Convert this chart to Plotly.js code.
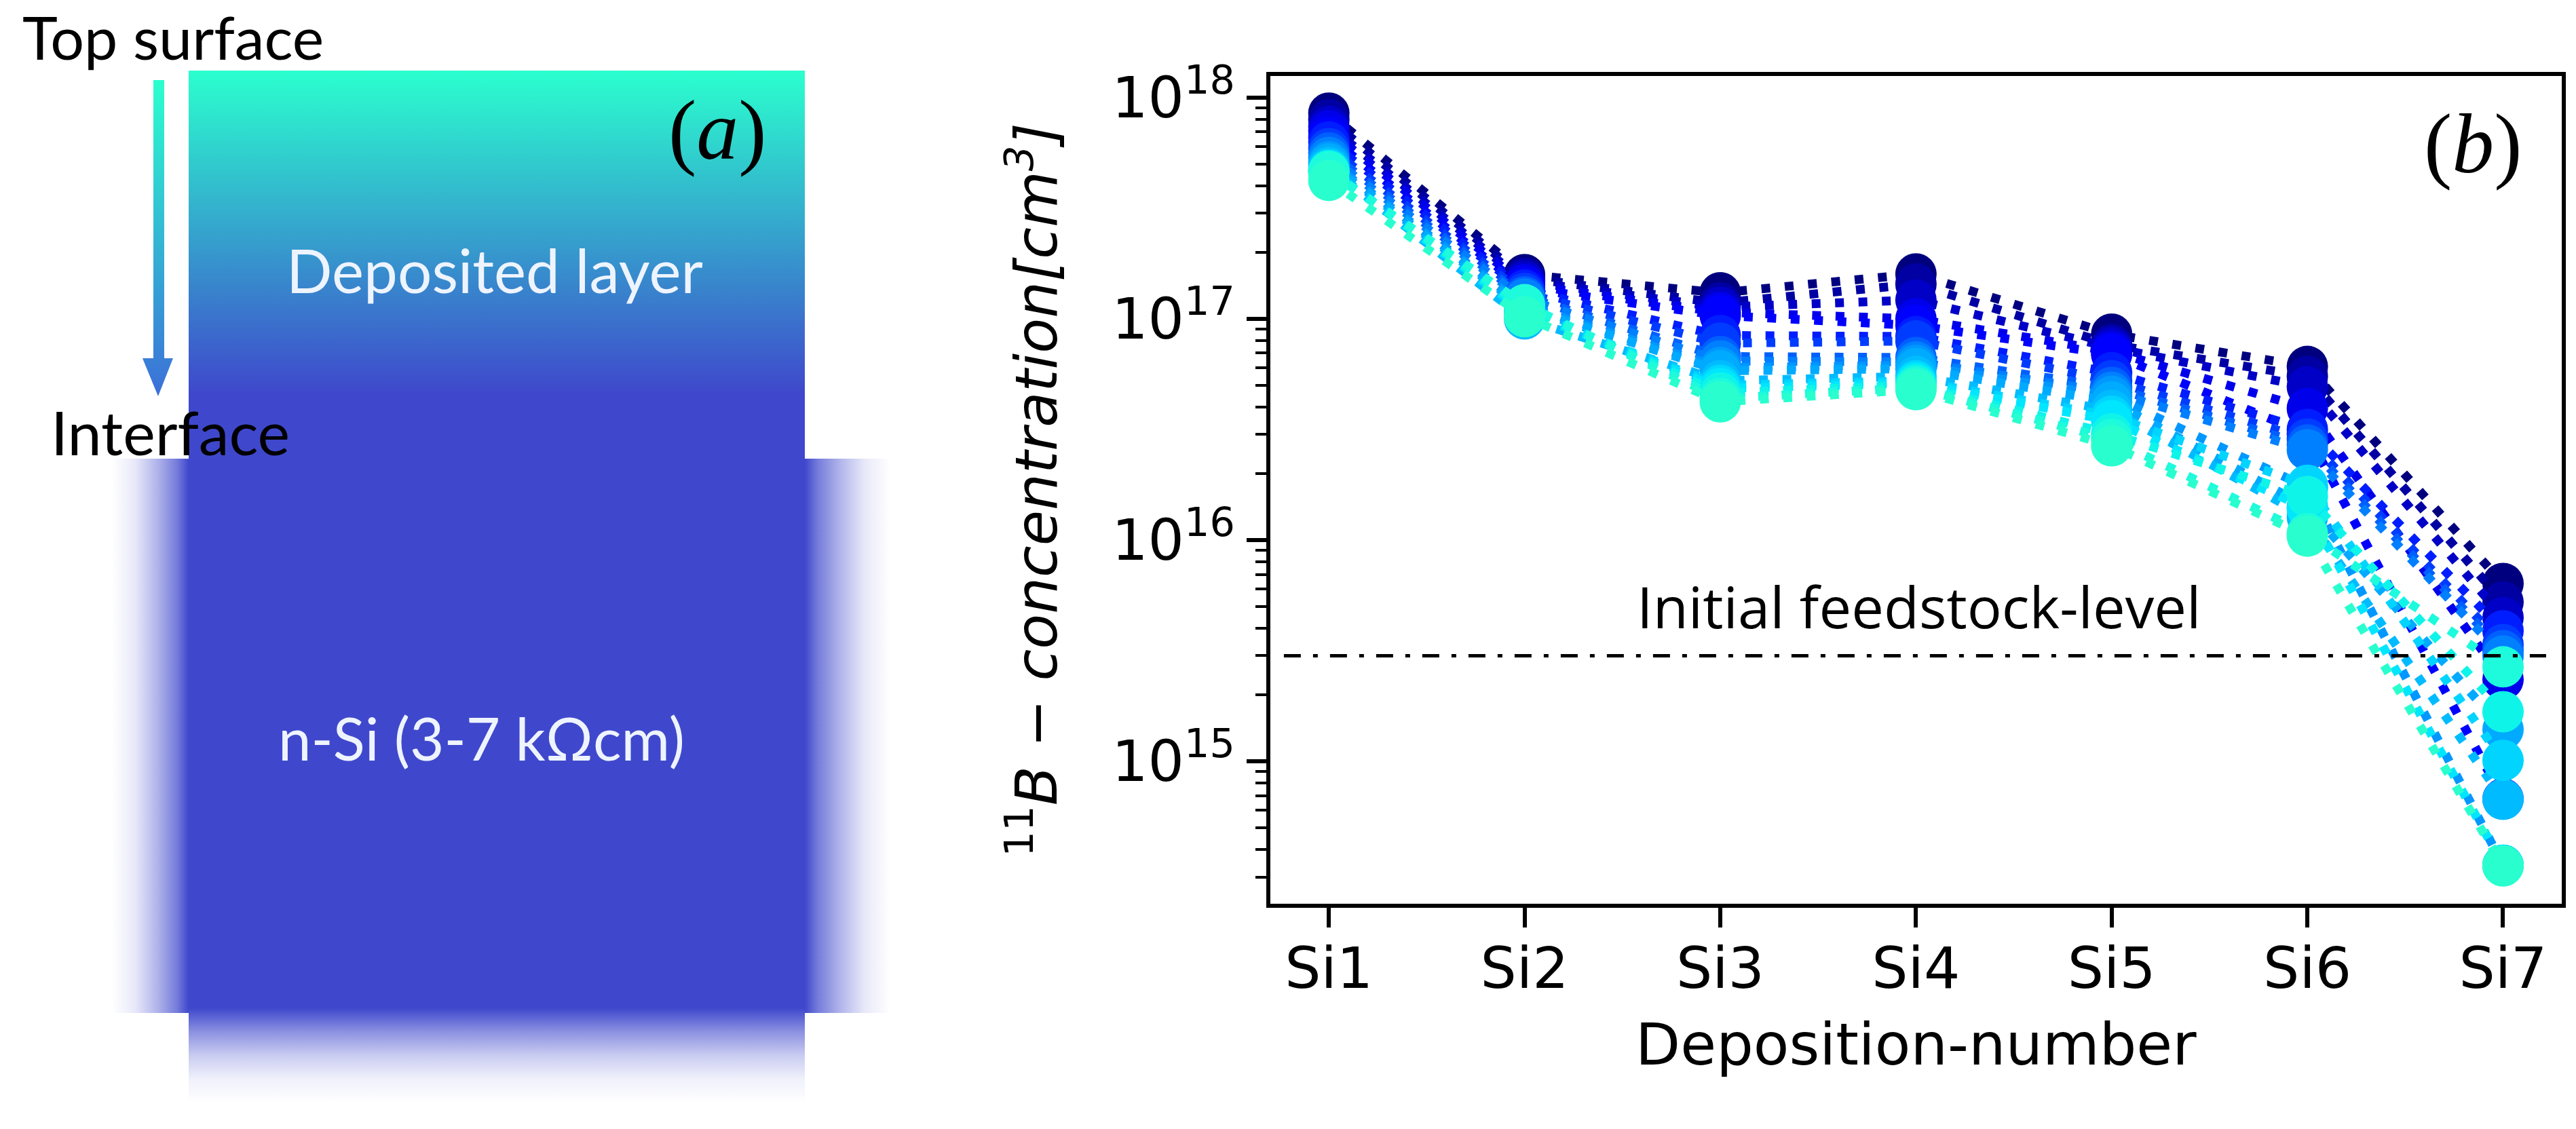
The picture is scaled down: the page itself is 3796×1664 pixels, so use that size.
<!DOCTYPE html>
<html><head><meta charset="utf-8">
<script src="https://cdn.plot.ly/plotly-3.0.1.min.js"></script>
<style>html,body{margin:0;padding:0;background:#fff}</style></head>
<body><div id="chart" style="width:3796px;height:1664px"></div>
<script>
const depositions = ["Si1","Si2","Si3","Si4","Si5","Si6","Si7"];
const depositionIndex = [0,1,2,3,4,5,6];
// log10 of the 11B concentration, one array per profile depth
const depth01 = [17.93,17.20,17.118,17.203,16.931,16.785,15.804];
const depth02 = [17.90,17.185,17.072,17.157,16.884,16.74,15.72];
const depth03 = [17.87,17.17,17.053,17.085,16.87,16.693,15.65];
const depth04 = [17.85,17.155,17.03,17.0,16.853,16.595,15.37];
const depth05 = [17.82,17.14,17.015,16.97,16.84,16.48,14.83];
const depth06 = [17.80,17.13,16.925,16.92,16.757,16.50,15.59];
const depth07 = [17.77,17.115,16.89,16.90,16.72,16.457,15.528];
const depth08 = [17.75,17.10,16.83,16.825,16.69,16.43,15.50];
const depth09 = [17.73,17.09,16.81,16.805,16.668,16.408,15.476];
const depth10 = [17.71,17.06,16.78,16.79,16.65,16.238,14.53];
const depth11 = [17.70,17.05,16.765,16.775,16.625,16.15,15.144];
const depth12 = [17.685,17.0,16.72,16.74,16.587,16.104,14.828];
const depth13 = [17.675,17.03,16.70,16.72,16.56,16.248,15.004];
const depth14 = [17.67,17.04,16.685,16.71,16.54,16.142,14.53];
const depth15 = [17.668,17.05,16.665,16.70,16.48,16.197,15.224];
const depth16 = [17.665,17.064,16.64,16.69,16.455,16.03,15.427];
const depth17 = [17.626,17.01,16.625,16.68,16.426,16.018,14.527];
const allDepths = [depth01,depth02,depth03,depth04,depth05,depth06,depth07,depth08,depth09,depth10,depth11,depth12,depth13,depth14,depth15,depth16,depth17];
const depthColors = ["#00007f","#0000a3","#0000c7","#0000eb","#0000ff","#001dff","#003cff","#0060ff","#0080ff","#0097ff","#00aaff","#00bbff","#00d4ff","#00e6ff","#0ff4e8","#1efbdc","#29ffce"];
const feedstockLevel = 3e15;
const yTickVals = [1e15,1e16,1e17,1e18];
const yTickText = ["10<sup>15</sup>","10<sup>16</sup>","10<sup>17</sup>","10<sup>18</sup>"];

const W=3796, H=1664;
const TEAL="#2bffce", BLUE="#3f48cc";
const traces=[];

function box(x0,y0,x1,y1,grad){
  traces.push({type:"scatter",mode:"lines",xaxis:"x2",yaxis:"y2",hoverinfo:"skip",
    x:[x0,x1,x1,x0,x0],y:[y0,y0,y1,y1,y0],fill:"toself",line:{width:0},fillgradient:grad});
}
const a=v=>"rgba(63,72,204,"+v+")";
box(165,676,278,1493,{type:"horizontal",start:165,stop:278,colorscale:[[0,a(0)],[0.3,a(0.12)],[0.6,a(0.42)],[0.85,a(0.72)],[1,a(1)]]});
box(1186,676,1312,1493,{type:"horizontal",start:1186,stop:1312,colorscale:[[0,a(1)],[0.15,a(0.72)],[0.4,a(0.42)],[0.7,a(0.12)],[1,a(0)]]});
box(278,1486,1186,1625,{type:"vertical",start:1486,stop:1625,colorscale:[[0,a(1)],[0.25,a(0.6)],[0.5,a(0.28)],[0.75,a(0.08)],[1,a(0)]]});
box(278,104,1186,1486,{type:"vertical",start:104,stop:1486,colorscale:[[0,TEAL],[0.345,BLUE],[1,BLUE]]});
traces.push({type:"scatter",mode:"lines",xaxis:"x2",yaxis:"y2",hoverinfo:"skip",
  x:[226,242,242,255,233,210,226,226],y:[118,118,528,528,584,528,528,118],fill:"toself",line:{width:0},
  fillgradient:{type:"vertical",start:118,stop:584,colorscale:[[0,TEAL],[1,"#3c6fd8"]]}});

allDepths.forEach((d,i)=>{
  traces.push({type:"scatter",mode:"lines+markers",x:depositionIndex,y:d.map(v=>Math.pow(10,v)),
    line:{color:depthColors[i],width:13,dash:"13px,21.5px"},
    marker:{color:depthColors[i],size:61,line:{width:0}},hoverinfo:"skip"});
});
traces.push({type:"scatter",mode:"lines",x:[-0.23,6.22],y:[feedstockLevel,feedstockLevel],
  line:{color:"#000",width:5,dash:"25px,18px,7px,18px"},hoverinfo:"skip"});

const DJ="DejaVu Sans";
const note=(text,x,y,family,size,color)=>({text,xref:"paper",yref:"paper",x:x/W,y:1-y/H,xanchor:"center",yanchor:"middle",showarrow:false,font:{family,size,color}});
const layout={width:W,height:H,margin:{l:0,r:0,t:0,b:0},paper_bgcolor:"#fff",plot_bgcolor:"rgba(0,0,0,0)",showlegend:false,hovermode:false,
  xaxis:{domain:[1871.7/W,3775/W],anchor:"y",type:"linear",range:[-0.3,6.3],
    tickmode:"array",tickvals:depositionIndex,ticktext:depositions,ticklabelstandoff:-12,
    showline:true,mirror:true,linecolor:"#000",linewidth:6,showgrid:false,zeroline:false,
    ticks:"outside",ticklen:29,tickwidth:6,tickcolor:"#000",tickfont:{family:DJ,size:84,color:"#000"},
    title:{text:"Deposition-number",font:{family:DJ,size:86,color:"#000"},standoff:36}},
  yaxis:{domain:[(H-1332)/H,(H-112)/H],anchor:"x",type:"log",range:[14.356,18.098],
    showline:true,mirror:true,linecolor:"#000",linewidth:6,showgrid:false,zeroline:false,
    tickmode:"array",tickvals:yTickVals,ticktext:yTickText,
    ticks:"outside",ticklen:29,tickwidth:6,tickcolor:"#000",tickfont:{family:DJ,size:84,color:"#000"},
    minor:{ticks:"outside",ticklen:16,tickwidth:4,tickcolor:"#000",dtick:"D1",showgrid:false},
    title:{text:"<sup>11</sup><i>B − concentration[cm<sup>3</sup>]</i>",font:{family:DJ,size:85,color:"#000"},standoff:54}},
  xaxis2:{domain:[0,1400/W],range:[0,1400],anchor:"y2",visible:false},
  yaxis2:{domain:[0,1],range:[H,0],anchor:"x2",visible:false},
  annotations:[
    note("Top surface",255,54,"Lato",88,"#000"),
    note("Interface",251,636,"Lato",90,"#000"),
    note("Deposited layer",729,397,"Lato",89,"#eef4ff"),
    note("n-Si (3-7 kΩcm)",709,1087,"Lato",87,"#eef4ff"),
    note("(<i>a</i>)",1057,192,"Liberation Serif",124,"#000"),
    note("(<i>b</i>)",3644,212,"Liberation Serif",124,"#000"),
    note("Initial feedstock-level",2827,893,"Open Sans",85,"#000")
  ]};
Plotly.newPlot("chart",traces,layout,{displayModeBar:false,responsive:false});
</script></body></html>
